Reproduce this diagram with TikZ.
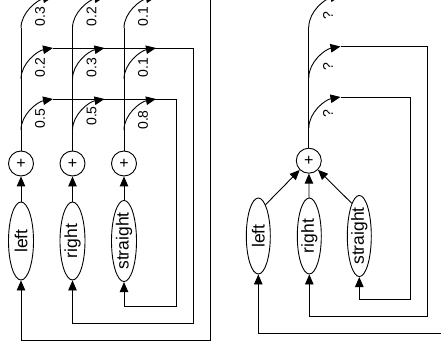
\documentclass[tikz,border=0pt]{standalone}
\usepackage{fontspec}
\setmainfont{Liberation Sans}
\usetikzlibrary{shapes.geometric,arrows.meta}
\begin{document}
\begin{tikzpicture}[x=1pt,y=-1pt,line width=0.9pt,
  arr/.style={-{Triangle[length=10pt,width=8.5pt]}},
  sumnode/.style={circle,draw,minimum size=25pt,inner sep=0pt,font=\fontsize{16}{16}\selectfont},
  statenode/.style={ellipse,draw,minimum width=25pt,minimum height=78pt,inner sep=0pt,font=\fontsize{17.5}{18}\selectfont},
  lbl/.style={rotate=90,inner sep=0pt,font=\fontsize{14}{14}\selectfont},
  branch/.style={arr,out=90,in=190,looseness=0.9}]
\useasboundingbox (0,0) rectangle (441,355);
\clip (0,0) rectangle (441,355);

% ---------- left panel ----------
\node[sumnode] (cL) at (21,163.5) {+};
\node[sumnode] (cR) at (72.5,163.5) {+};
\node[sumnode] (cS) at (124,163.5) {+};
\node[statenode] (sL) at (21,241) {\rotatebox{90}{left}};
\node[statenode] (sR) at (72.5,241) {\rotatebox{90}{right}};
\node[statenode] (sS) at (124,241) {\rotatebox{90}{straight}};
\draw[arr] (sL) -- (cL);
\draw[arr] (sR) -- (cR);
\draw[arr] (sS) -- (cS);

% branch points and junctions
\coordinate (bL1) at (21,130);   \coordinate (bL2) at (21,79);   \coordinate (bL3) at (21,28);
\coordinate (bR1) at (72.5,130); \coordinate (bR2) at (72.5,79); \coordinate (bR3) at (72.5,28);
\coordinate (bS1) at (124,130);  \coordinate (bS2) at (124,79);  \coordinate (bS3) at (124,28);
\coordinate (jL1) at (53,99);    \coordinate (jL2) at (53,48);    \coordinate (jL3) at (53,-3);
\coordinate (jR1) at (104.5,99); \coordinate (jR2) at (104.5,48); \coordinate (jR3) at (104.5,-3);
\coordinate (jS1) at (156,99);   \coordinate (jS2) at (156,48);   \coordinate (jS3) at (156,-3);

\draw (cL) -- (bL3);
\draw (cR) -- (bR3);
\draw (cS) -- (bS3);

\draw[arr] (jL1) -| (176,306) -| (sS.south);
\draw[arr] (jL2) -| (193.5,323) -| (sR.south);
\draw[arr] (jL3) -| (210.5,340) -| (sL.south);

\draw[branch] (bL1) to (jL1);
\draw[branch] (bL2) to (jL2);
\draw[branch] (bL3) to (jL3);
\draw[branch] (bR1) to (jR1);
\draw[branch] (bR2) to (jR2);
\draw[branch] (bR3) to (jR3);
\draw[branch] (bS1) to (jS1);
\draw[branch] (bS2) to (jS2);
\draw[branch] (bS3) to (jS3);

\node[lbl] (wL1) at (40,118.5) {0.5};
\node[lbl] (wL2) at (40,67.5) {0.2};
\node[lbl] (wL3) at (40,16.5) {0.3};
\node[lbl] (wR1) at (91.5,116) {0.5};
\node[lbl] (wR2) at (91.5,67.5) {0.3};
\node[lbl] (wR3) at (91.5,16.5) {0.2};
\node[lbl] (wS1) at (143,120) {0.8};
\node[lbl] (wS2) at (143,67.5) {0.1};
\node[lbl] (wS3) at (143,16.5) {0.1};

% ---------- right panel ----------
\node[sumnode] (c2) at (308.8,160.7) {+};
\node[statenode,minimum width=24pt,minimum height=76pt] (tL) at (258.3,236) {\rotatebox{90}{left}};
\node[statenode,minimum width=24pt,minimum height=76pt] (tR) at (309.3,236) {\rotatebox{90}{right}};
\node[statenode,minimum width=24pt,minimum height=76pt] (tS) at (359.3,236) {\rotatebox{90}{straight}};
\draw[arr] (tL.77) -- (c2);
\draw[arr] (tR) -- (c2);
\draw[arr] (tS.103) -- (c2);

\coordinate (b21) at (308.8,128); \coordinate (b22) at (308.8,77.5); \coordinate (b23) at (308.8,27);
\coordinate (j21) at (340.5,97);  \coordinate (j22) at (340.5,46.5); \coordinate (j23) at (340.5,-4);
\draw (c2) -- (b23);
\draw[arr] (j21) -| (410,299) -| (tS.south);
\draw[arr] (j22) -| (427,316) -| (tR.south);
\draw[arr] (j23) -| (446,333) -| (tL.south);
\draw[branch] (b21) to (j21);
\draw[branch] (b22) to (j22);
\draw[branch] (b23) to (j23);
\node[lbl] (q1) at (328,113.5) {?};
\node[lbl] (q2) at (328,66.5) {?};
\node[lbl] (q3) at (328,15.5) {?};
\end{tikzpicture}
\end{document}
